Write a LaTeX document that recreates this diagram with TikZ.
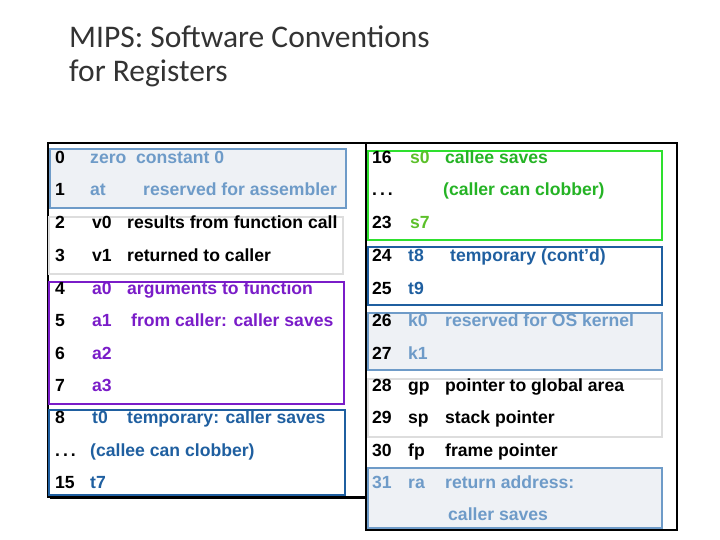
\documentclass[tikz,border=0pt]{standalone}
\usepackage{fontspec}
\setmainfont{Liberation Sans}
\newfontfamily\titlefont{Carlito}
\definecolor{lblue}{HTML}{6E9BC8}
\definecolor{dblue}{HTML}{1F5FA0}
\definecolor{purp}{HTML}{7A1CC8}
\definecolor{grn}{HTML}{2EE02E}
\definecolor{sgrn}{HTML}{5CC02A}
\definecolor{lgray}{HTML}{DDDDDD}
\definecolor{dotfill}{HTML}{EEF1F5}
\begin{document}
\begin{tikzpicture}[x=1pt,y=-1pt,
  txt/.style={anchor=base west,inner sep=0pt,font=\fontsize{17.6}{19}\selectfont\bfseries},
  outer/.style={draw=black,line width=1.6pt},
  grp/.style={line width=2.4pt},
  dotbox/.style={grp,draw=lblue,fill=dotfill}]
\useasboundingbox (0,0) rectangle (720,540);
\node[anchor=base west,inner sep=0pt,font=\titlefont\fontsize{31.5}{33}\selectfont,text=black!80] (t1) at (69,48) {MIPS: Software Conventions};
\node[anchor=base west,inner sep=0pt,font=\titlefont\fontsize{31.5}{33}\selectfont,text=black!80] (t2) at (69,82) {for Registers};
% outer boxes
\draw[outer] (48,143) rectangle (366,497);
\draw[line width=2.5pt] (50,498) -- (367,498);
\draw[outer] (366,143) rectangle (677,530);
% left groups
\draw[dotbox] (50,149) rectangle (346,208);
\draw[grp,draw=lgray] (49,217) rectangle (343,274);
\draw[grp,draw=purp] (49,282) rectangle (344,404);
\draw[grp,draw=dblue] (49,410) rectangle (345,495);
% right groups
\draw[grp,draw=grn] (368,151) rectangle (662,240);
\draw[grp,draw=dblue] (368,247) rectangle (662,305);
\draw[dotbox] (368,313) rectangle (662,370);
\draw[grp,draw=lgray] (368,379) rectangle (662,437);
\draw[dotbox] (368,468) rectangle (662,528);
% left text
\node[txt] (n0) at (55,164) {0};
\node[txt,text=lblue] (r0) at (90,164) {zero\ \ constant 0};
\node[txt] (n1) at (55,196) {1};
\node[txt,text=lblue] (r1) at (90,196) {at};
\node[txt,text=lblue] (d1) at (143,196) {reserved for assembler};
\node[txt] (n2) at (55,229) {2};
\node[txt] (r2) at (92,229) {v0};
\node[txt] (d2) at (127,229) {results from function call};
\node[txt] (n3) at (55,261) {3};
\node[txt] (r3) at (92,261) {v1};
\node[txt] (d3) at (127,261) {returned to caller};
\node[txt] (n4) at (55,294) {4};
\node[txt,text=purp] (r4) at (92,294) {a0};
\node[txt,text=purp] (d4) at (127,294) {arguments to function};
\node[txt] (n5) at (55,326) {5};
\node[txt,text=purp] (r5) at (92,326) {a1};
\node[txt,text=purp] (d5) at (131,326) {from caller: caller saves};
\node[txt] (n6) at (55,359) {6};
\node[txt,text=purp] (r6) at (92,359) {a2};
\node[txt] (n7) at (55,391) {7};
\node[txt,text=purp] (r7) at (92,391) {a3};
\node[txt] (n8) at (55,423) {8};
\node[txt,text=dblue] (r8) at (92,423) {t0};
\node[txt,text=dblue] (d8) at (127,423) {temporary: caller saves};
\node[txt] (nd) at (55,456) {.\,.\,.};
\node[txt,text=dblue] (rd) at (90,456) {(callee can clobber)};
\node[txt] (n15) at (55,488) {15};
\node[txt,text=dblue] (r15) at (90,488) {t7};
% right text
\node[txt] (n16) at (372,164) {16};
\node[txt,text=sgrn] (r16) at (410,164) {s0};
\node[txt,text=grn!80!black] (d16) at (445,164) {callee saves};
\node[txt] (nrd) at (372,196) {.\,.\,.};
\node[txt,text=grn!80!black] (drd) at (443,196) {(caller can clobber)};
\node[txt] (n23) at (372,229) {23};
\node[txt,text=sgrn] (r23) at (410,229) {s7};
\node[txt] (n24) at (372,261) {24};
\node[txt,text=dblue] (r24) at (408,261) {t8};
\node[txt,text=dblue] (d24) at (450,261) {temporary (cont'd)};
\node[txt] (n25) at (372,294) {25};
\node[txt,text=dblue] (r25) at (408,294) {t9};
\node[txt] (n26) at (372,326) {26};
\node[txt,text=lblue] (r26) at (408,326) {k0};
\node[txt,text=lblue] (d26) at (445,326) {reserved for OS kernel};
\node[txt] (n27) at (372,359) {27};
\node[txt,text=lblue] (r27) at (408,359) {k1};
\node[txt] (n28) at (372,391) {28};
\node[txt] (r28) at (408,391) {gp};
\node[txt] (d28) at (445,391) {pointer to global area};
\node[txt] (n29) at (372,423) {29};
\node[txt] (r29) at (408,423) {sp};
\node[txt] (d29) at (445,423) {stack pointer};
\node[txt] (n30) at (372,456) {30};
\node[txt] (r30) at (408,456) {fp};
\node[txt] (d30) at (445,456) {frame pointer};
\node[txt,text=lblue] (n31) at (372,488) {31};
\node[txt,text=lblue] (r31) at (408,488) {ra};
\node[txt,text=lblue] (d31a) at (445,488) {return address:};
\node[txt,text=lblue] (d31) at (448,520) {caller saves};
\end{tikzpicture}
\end{document}
